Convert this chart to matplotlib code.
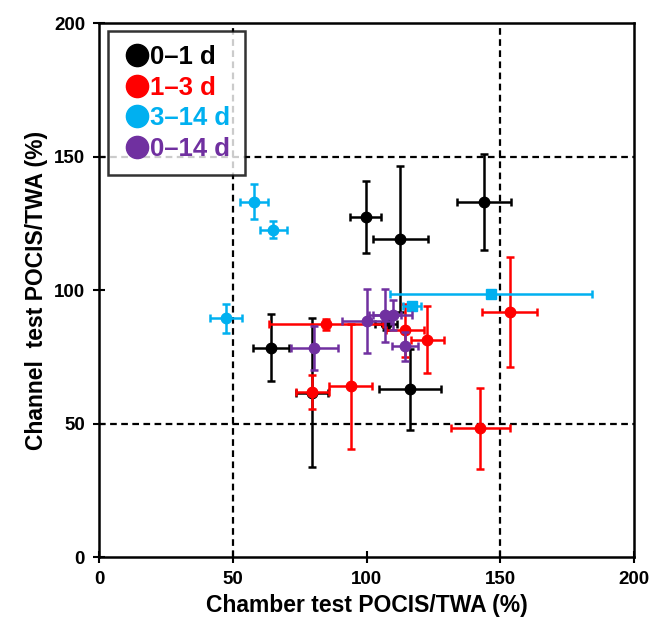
import matplotlib
matplotlib.use("Agg")
import matplotlib.pyplot as plt
from matplotlib.lines import Line2D

plt.rcParams['font.family'] = ['Liberation Sans', 'DejaVu Sans']
plt.rcParams['font.weight'] = 'bold'

# ---- data (chamber x, channel y, x error, y error) ----
black_x = [64.2, 99.7, 112.6, 144.0, 116.3, 107.3, 79.7]
black_y = [78.5, 127.3, 119.2, 133.0, 62.8, 87.5, 61.6]
black_xe = [6.7, 5.8, 10.3, 10.0, 11.6, 4.0, 5.9]
black_ye = [12.5, 13.4, 27.4, 18.1, 15.0, 2.5, 27.8]

red_x = [84.9, 79.7, 94.1, 153.6, 142.5, 122.7, 114.4]
red_y = [87.2, 61.7, 64.0, 91.9, 48.2, 81.5, 85.0]
red_xe = [21.2, 6.1, 8.0, 10.3, 11.1, 6.1, 7.1]
red_ye = [2.0, 6.4, 23.5, 20.6, 15.3, 12.7, 10.0]

cyan_x = [57.9, 65.2, 47.4]
cyan_y = [133.1, 122.7, 89.4]
cyan_xe = [5.1, 5.1, 6.0]
cyan_ye = [6.6, 3.1, 5.3]

cyan_sq_x = [146.5, 116.9]
cyan_sq_y = [98.6, 94.0]
cyan_sq_xe = [37.8, 3.4]
cyan_sq_ye = [1.5, 1.5]

purple_x = [80.5, 100.1, 106.9, 109.8, 114.4]
purple_y = [78.2, 88.5, 90.6, 90.6, 79.0]
purple_xe = [8.7, 9.2, 6.0, 7.2, 4.7]
purple_ye = [8.25, 12.0, 10.0, 5.6, 5.5]

labels = ['0\u20131 d', '1\u20133 d', '3\u201314 d', '0\u201314 d']
colors = ['#000000', '#FF0000', '#00B0F0', '#7030A0']

ticks = [0, 50, 100, 150, 200]
ref_lines = [50, 150]

fig = plt.figure(figsize=(6.51, 6.26), dpi=100)
ax = fig.add_axes([0.152, 0.110, 0.822, 0.853])

for v in ref_lines:
    ax.axvline(v, color='black', ls=(0, (3, 2)), lw=1.6, zorder=1)
    ax.axhline(v, color='black', ls=(0, (3, 2)), lw=1.6, zorder=1)

ekw = dict(ls='none', elinewidth=1.8, capsize=3.2, capthick=1.8, markersize=7.5)
ax.errorbar(black_x, black_y, xerr=black_xe, yerr=black_ye, fmt='o',
            color=colors[0], zorder=3, **ekw)
ax.errorbar(red_x, red_y, xerr=red_xe, yerr=red_ye, fmt='o',
            color=colors[1], zorder=4, **ekw)
ax.errorbar(cyan_x, cyan_y, xerr=cyan_xe, yerr=cyan_ye, fmt='o',
            color=colors[2], zorder=5, **ekw)
ax.errorbar(cyan_sq_x, cyan_sq_y, xerr=cyan_sq_xe, yerr=cyan_sq_ye, fmt='s',
            color=colors[2], zorder=5, ls='none', elinewidth=1.8, capsize=3.2,
            capthick=1.8, markersize=6.5)
ax.errorbar(purple_x, purple_y, xerr=purple_xe, yerr=purple_ye, fmt='o',
            color=colors[3], zorder=6, **ekw)

ax.set_xlim(0, 200)
ax.set_ylim(0, 200)
ax.set_xticks(ticks)
ax.set_yticks(ticks)
ax.tick_params(direction='inout', length=8, width=1.5, labelsize=13.5, pad=6)
for lab in ax.get_xticklabels() + ax.get_yticklabels():
    lab.set_fontweight('bold')
for s in ax.spines.values():
    s.set_linewidth(1.8)

ax.set_xlabel('Chamber test POCIS/TWA (%)', fontsize=16.5, fontweight='bold', labelpad=4)
ax.set_ylabel('Channel  test POCIS/TWA (%)', fontsize=16.5, fontweight='bold', labelpad=4)

handles = [Line2D([], [], marker='o', ls='none', color=c, markersize=16) for c in colors]
leg = ax.legend(handles, labels, loc='upper left', bbox_to_anchor=(0.017, 0.985),
                frameon=True, fancybox=False, handletextpad=-0.05, handlelength=1.15,
                borderpad=0.55, labelspacing=0.25, prop={'size': 18.5, 'weight': 'bold'},
                borderaxespad=0)
leg.get_frame().set_edgecolor('black')
leg.get_frame().set_linewidth(1.8)
leg.set_zorder(10)
for t, c in zip(leg.get_texts(), colors):
    t.set_color(c)

fig.savefig('out.png', dpi=100)
